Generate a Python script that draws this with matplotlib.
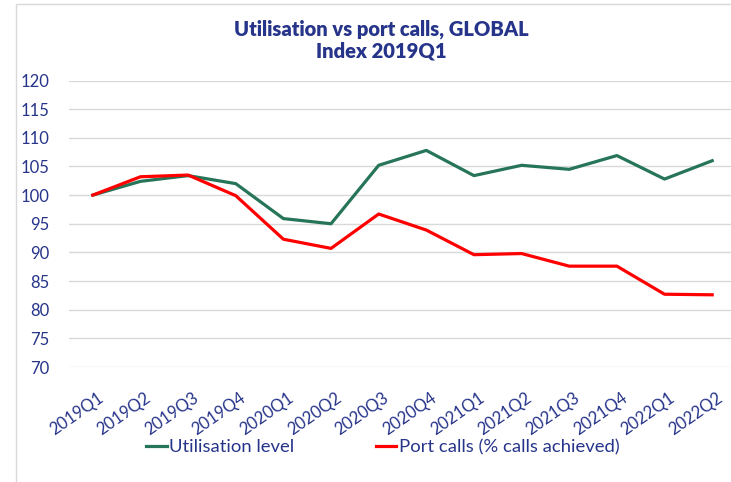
import matplotlib.pyplot as plt
from matplotlib.patches import Rectangle
from matplotlib.transforms import ScaledTranslation

quarters = ['2019Q1', '2019Q2', '2019Q3', '2019Q4', '2020Q1', '2020Q2', '2020Q3',
            '2020Q4', '2021Q1', '2021Q2', '2021Q3', '2021Q4', '2022Q1', '2022Q2']
utilisation = [100, 102.4, 103.4, 102.0, 95.9, 95.0, 105.2,
               107.8, 103.4, 105.2, 104.5, 106.9, 102.8, 106.0]
port_calls = [100, 103.2, 103.5, 99.9, 92.3, 90.7, 96.7,
              93.9, 89.6, 89.8, 87.6, 87.6, 82.7, 82.6]
yticks = [70, 75, 80, 85, 90, 95, 100, 105, 110, 115, 120]

navy = '#26348A'
plt.rcParams['font.family'] = ['Lato', 'DejaVu Sans']

fig = plt.figure(figsize=(7.31, 4.82), dpi=100)
# chart border
fig.patches.append(Rectangle((16 / 731, -0.1), 1, 1.1 - 4 / 482, transform=fig.transFigure,
                             fill=False, edgecolor='#D9D9D9', lw=1))

ax = fig.add_axes([69 / 731, 1 - 367 / 482, 667 / 731, (367 - 80.5) / 482])
x = range(len(quarters))
ax.plot(x, utilisation, color='#267558', lw=2.3, label='Utilisation level')
ax.plot(x, port_calls, color='#FF0000', lw=2.3, label='Port calls (% calls achieved)')

ax.set_xlim(-0.5, len(quarters) - 0.5)
ax.set_ylim(70, 120)
ax.set_yticks(yticks)
ax.set_xticks(list(x))
ax.set_xticklabels(quarters, rotation=35, ha='right', rotation_mode='anchor')
ax.tick_params(axis='both', length=0, labelcolor=navy)
ax.tick_params(axis='y', pad=14, labelsize=12)
ax.tick_params(axis='x', pad=16, labelsize=12)
shift = ScaledTranslation(4 / 100, 0, fig.dpi_scale_trans)
for lab in ax.get_xticklabels():
    lab.set_transform(lab.get_transform() + shift)
ax.grid(axis='y', color='#D9D9D9', lw=1)
ax.set_axisbelow(True)
for s in ax.spines.values():
    s.set_visible(False)

fig.text(381 / 731, 1 - 29 / 482, 'Utilisation vs port calls, GLOBAL', ha='center', va='center',
         fontsize=14.5, fontweight='heavy', color=navy)
fig.text(381 / 731, 1 - 51 / 482, 'Index 2019Q1', ha='center', va='center',
         fontsize=14.5, fontweight='heavy', color=navy)

leg = fig.legend(loc='center', bbox_to_anchor=(383 / 731, 1 - 447 / 482), ncol=2, frameon=False,
                 fontsize=13.3, handlelength=1.1, handletextpad=0.15, columnspacing=4.4, labelcolor=navy)

fig.savefig('out.png', dpi=100)
